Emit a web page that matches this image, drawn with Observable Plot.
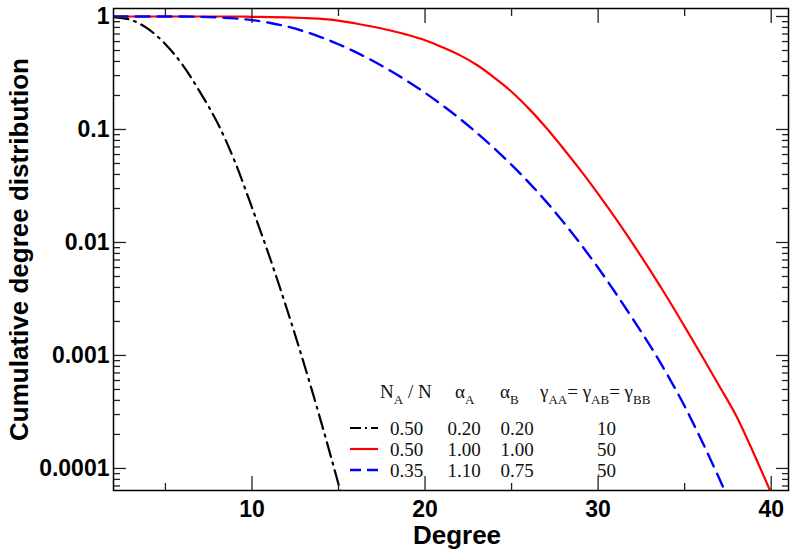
<!DOCTYPE html>
<html>
<head>
<meta charset="utf-8">
<script src="https://cdn.jsdelivr.net/npm/d3@7"></script>
<script src="https://cdn.jsdelivr.net/npm/@observablehq/plot@0.6"></script>
<style>
  body { margin: 0; background: #fff; }
  #chart svg { display: block; }
</style>
</head>
<body>
<div id="chart"></div>
<script>
// ---------- data ----------
const degreeBlack = [2,3,4,5,6,7,8,9,10,11,12,13,14,15,16];
const cdfBlack = [0.989,0.933,0.776,0.569,0.372,0.214,0.115,0.0525,0.0204,0.00759,0.00263,0.000851,0.000257,0.0000724,0.0000191];

const degreeRed = [2,3,4,5,6,7,8,9,10,11,12,13,14,15,16,17,18,19,20,21,22,23,24,25,26,27,28,29,30,31,32,33,34,35,36,37,38,39,40];
const cdfRed = [1,1,1,1,1,1,1,1,0.993,0.989,0.982,0.970,0.953,0.920,0.867,0.811,0.752,0.687,0.617,0.535,0.455,0.372,0.288,0.216,0.153,0.1035,0.0676,0.0432,0.0269,0.0164,0.00977,0.00569,0.00324,0.00180,0.000989,0.000537,0.000288,0.000135,0.0000603];

const degreeBlue = [2,3,4,5,6,7,8,9,10,11,12,13,14,15,16,17,18,19,20,21,22,23,24,25,26,27,28,29,30,31,32,33,34,35,36,37,38];
const cdfBlue = [1,1,1,1,1,0.993,0.982,0.962,0.929,0.881,0.817,0.740,0.655,0.568,0.483,0.404,0.331,0.267,0.211,0.164,0.125,0.0931,0.0681,0.0486,0.0339,0.0230,0.0151,0.00964,0.00597,0.00359,0.00211,0.00122,0.000676,0.000355,0.000174,0.0000813,0.0000363];

const xTicks = [10, 20, 30, 40];
const xMinorTicks = [5, 15, 25, 35];
const yTicks = [1, 0.1, 0.01, 0.001, 0.0001];
const yTickLabels = ["1", "0.1", "0.01", "0.001", "0.0001"];

const xTitle = "Degree";
const yTitle = "Cumulative degree distribution";

const legendNA = ["0.50", "0.50", "0.35"];
const legendAlphaA = ["0.20", "1.00", "1.10"];
const legendAlphaB = ["0.20", "1.00", "0.75"];
const legendGamma = ["10", "50", "50"];

// ---------- styles ----------
const seriesStyle = [
  {stroke: "black", strokeWidth: 2.2, dash: "15,6,2,6"},
  {stroke: "#ff0000", strokeWidth: 2.2, dash: null},
  {stroke: "#0000ff", strokeWidth: 2.4, dash: "14,8"}
];

// minor y ticks (2..9 × each decade inside the domain)
const yDomain = [6.38e-5, 1.177];
const yMinorTicks = [];
for (let e = -5; e <= 0; e++) for (let m = 2; m <= 9; m++) {
  const v = +(m * Math.pow(10, e)).toPrecision(3);
  if (v >= yDomain[0] && v <= yDomain[1]) yMinorTicks.push(v);
}

const black = degreeBlack.map((d, i) => ({degree: d, cdf: cdfBlack[i]}));
const red = degreeRed.map((d, i) => ({degree: d, cdf: cdfRed[i]}));
const blue = degreeBlue.map((d, i) => ({degree: d, cdf: cdfBlue[i]}));

const tickStyle = {stroke: "#222", strokeWidth: 1.3, tickFormat: () => "", label: null};

const chart = Plot.plot({
  width: 800,
  height: 552,
  marginLeft: 113,
  marginRight: 12,
  marginTop: 8,
  marginBottom: 62,
  style: {
    fontFamily: "'Liberation Sans', Arial, Helvetica, sans-serif",
    fontWeight: "bold",
    fontSize: "23px",
    color: "black",
    background: "white",
    overflow: "visible"
  },
  x: {domain: [2, 41]},
  y: {type: "log", domain: yDomain},
  marks: [
    Plot.line(black, {x: "degree", y: "cdf", curve: "monotone-x", stroke: seriesStyle[0].stroke, strokeWidth: seriesStyle[0].strokeWidth, strokeDasharray: seriesStyle[0].dash, clip: true}),
    Plot.line(red, {x: "degree", y: "cdf", curve: "monotone-x", stroke: seriesStyle[1].stroke, strokeWidth: seriesStyle[1].strokeWidth, clip: true}),
    Plot.line(blue, {x: "degree", y: "cdf", curve: "monotone-x", stroke: seriesStyle[2].stroke, strokeWidth: seriesStyle[2].strokeWidth, strokeDasharray: seriesStyle[2].dash, clip: true}),
    // inward ticks on all four sides
    Plot.axisY({ticks: yTicks, anchor: "left", tickSize: -13, ...tickStyle}),
    Plot.axisY({ticks: yMinorTicks, anchor: "left", tickSize: -7, ...tickStyle}),
    Plot.axisY({ticks: yTicks, anchor: "right", tickSize: -13, ...tickStyle}),
    Plot.axisY({ticks: yMinorTicks, anchor: "right", tickSize: -7, ...tickStyle}),
    Plot.axisX({ticks: xTicks, anchor: "bottom", tickSize: -14, ...tickStyle}),
    Plot.axisX({ticks: xMinorTicks, anchor: "bottom", tickSize: -7, ...tickStyle}),
    Plot.axisX({ticks: xTicks, anchor: "top", tickSize: -14, ...tickStyle}),
    Plot.axisX({ticks: xMinorTicks, anchor: "top", tickSize: -7, ...tickStyle}),
    // tick labels
    Plot.axisY({ticks: yTicks, anchor: "left", tickSize: 0, tickPadding: 4, label: null,
      tickFormat: d => yTickLabels[yTicks.indexOf(d)]}),
    Plot.axisX({ticks: xTicks, anchor: "bottom", tickSize: 0, tickPadding: 10, label: null,
      tickFormat: d => String(d)}),
    // titles
    Plot.text([xTitle], {text: d => d, frameAnchor: "bottom", textAnchor: "middle", dx: 6, dy: 45, fontSize: 26, fontWeight: "bold", lineAnchor: "middle"}),
    Plot.text([yTitle], {text: d => d, frameAnchor: "left", textAnchor: "middle", rotate: -90, dx: -94, fontSize: 26, fontWeight: "bold", lineAnchor: "middle"}),
    Plot.frame({stroke: "black", strokeWidth: 1.5})
  ]
});

document.getElementById("chart").appendChild(chart);

// ---------- legend (inside the plot area) ----------
const svg = d3.select(chart);
const lg = svg.append("g")
  .attr("font-family", "'Liberation Serif', 'Times New Roman', Times, serif")
  .attr("font-size", 19)
  .attr("font-weight", "normal")
  .attr("text-anchor", "start")
  .attr("fill", "#111")
  .style("white-space", "pre");

function labelWithSub(x, y, parts) {
  const t = lg.append("text").attr("x", x).attr("y", y).attr("text-anchor", "start");
  let down = false;
  for (const [txt, isSub] of parts) {
    const ts = t.append("tspan").text(txt);
    if (isSub && !down) { ts.attr("font-size", 13).attr("dy", 6); down = true; }
    else if (isSub) { ts.attr("font-size", 13); }
    else if (down) { ts.attr("dy", -6); down = false; }
  }
  return t;
}

const headerY = 398;
labelWithSub(380, headerY, [["N", false], ["A", true], [" / N", false]]);
labelWithSub(455, headerY, [["\u03B1", false], ["A", true]]);
labelWithSub(500, headerY, [["\u03B1", false], ["B", true]]);
labelWithSub(540, headerY, [["\u03B3", false], ["AA", true], ["= \u03B3", false], ["AB", true], ["= \u03B3", false], ["BB", true]]);

const colX = [406.5, 464, 517, 606.5];
const cols = [legendNA, legendAlphaA, legendAlphaB, legendGamma];
for (let i = 0; i < 3; i++) {
  const base = 435 + 21 * i;
  const mid = base - 7;
  const s = seriesStyle[i];
  lg.append("line")
    .attr("x1", 350).attr("x2", 378).attr("y1", mid).attr("y2", mid)
    .attr("stroke", s.stroke).attr("stroke-width", s.strokeWidth)
    .attr("stroke-dasharray", i === 0 ? "11,4,2,4" : (s.dash ? "11,6" : null));
  cols.forEach((col, c) => {
    lg.append("text").attr("x", colX[c]).attr("y", base).attr("text-anchor", "middle").text(col[i]);
  });
}
</script>
</body>
</html>
